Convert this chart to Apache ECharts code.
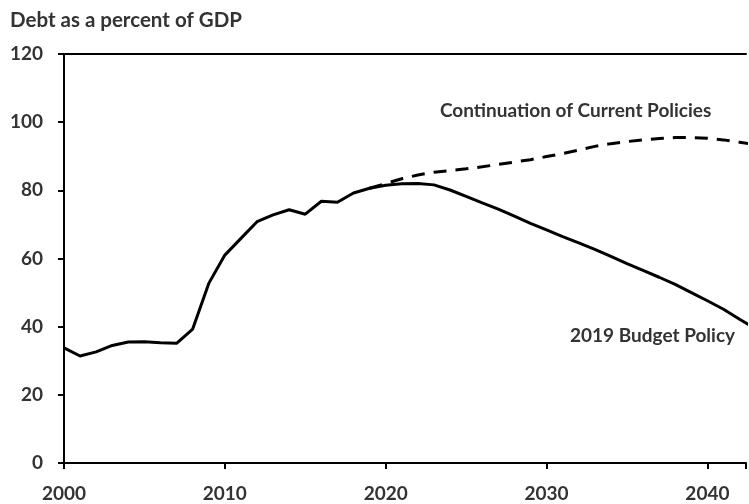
<!DOCTYPE html>
<html>
<head>
<meta charset="utf-8">
<script src="https://cdn.jsdelivr.net/npm/echarts@6/dist/echarts.min.js"></script>
<style>
html,body{margin:0;padding:0;background:#fff;}
#chart{width:749px;height:504px;}
</style>
</head>
<body>
<div id="chart"></div>
<script>
var titleText = 'Debt as a percent of GDP';
var labelCurrent = 'Continuation of Current Policies';
var labelBudget = '2019 Budget Policy';

var years = [2000,2001,2002,2003,2004,2005,2006,2007,2008,2009,2010,2011,2012,2013,2014,2015,2016,2017,2018,2019,2020,2021,2022,2023,2024,2025,2026,2027,2028,2029,2030,2031,2032,2033,2034,2035,2036,2037,2038,2039,2040,2041,2042,2043];
var budgetPolicy = [33.8,31.4,32.6,34.5,35.5,35.6,35.3,35.1,39.3,52.7,61.0,65.9,70.8,72.8,74.3,73.0,76.8,76.5,79.2,80.6,81.5,81.9,82.0,81.6,80.1,78.2,76.3,74.5,72.4,70.3,68.4,66.4,64.6,62.7,60.6,58.5,56.5,54.5,52.4,50.0,47.6,45.1,42.2,39.3];

var projYears = [2019,2020,2021,2022,2023,2024,2025,2026,2027,2028,2029,2030,2031,2032,2033,2034,2035,2036,2037,2038,2039,2040,2041,2042,2043];
var currentPolicies = [80.6,82.0,83.4,84.5,85.3,85.8,86.3,86.9,87.6,88.3,89.0,89.9,90.8,91.8,92.9,93.7,94.3,94.8,95.2,95.5,95.5,95.3,94.8,94.1,93.4];

var yTicks = {min:0, max:120, interval:20};
var xTicks = {min:2000, max:2042.4, interval:10};

function pairs(xs, ys){ return xs.map(function(x,i){ return [x, ys[i]]; }); }

var FONT = 'Lato';
var TXT = '#333333';

var chart = echarts.init(document.getElementById('chart'), null, {renderer:'canvas'});
chart.setOption({
  animation:false,
  backgroundColor:'#ffffff',
  title:{
    text:titleText, left:10, top:10, padding:0,
    textStyle:{fontFamily:FONT, fontWeight:'bold', fontSize:20.5, color:TXT}
  },
  grid:{left:64, right:0, top:54, bottom:41, containLabel:false},
  xAxis:[{
    type:'value', min:xTicks.min, max:xTicks.max, interval:xTicks.interval,
    axisLine:{show:true, lineStyle:{color:'#000', width:2}},
    axisTick:{show:true, length:6, lineStyle:{color:'#000', width:2}},
    axisLabel:{fontFamily:FONT, fontWeight:'bold', fontSize:19, color:TXT, margin:21,
      formatter:function(v){ return (v % 10 === 0) ? String(v) : ''; }},
    splitLine:{show:false}
  },{
    type:'value', position:'top', min:xTicks.min, max:xTicks.max,
    axisLine:{show:true, onZero:false, lineStyle:{color:'#000', width:2}},
    axisTick:{show:false}, axisLabel:{show:false}, splitLine:{show:false}
  }],
  yAxis:{
    type:'value', min:yTicks.min, max:yTicks.max, interval:yTicks.interval,
    axisLine:{show:true, lineStyle:{color:'#000', width:2}},
    axisTick:{show:true, length:6, lineStyle:{color:'#000', width:2}},
    axisLabel:{fontFamily:FONT, fontWeight:'bold', fontSize:19, color:TXT, margin:21},
    splitLine:{show:false}
  },
  series:[{
    name:labelCurrent, type:'line', xAxisIndex:0,
    data:pairs(projYears, currentPolicies),
    symbol:'none', clip:true,
    lineStyle:{color:'#000', width:3, type:[13,9], cap:'butt'}
  },{
    name:labelBudget, type:'line', xAxisIndex:0,
    data:pairs(years, budgetPolicy),
    symbol:'none', clip:true,
    lineStyle:{color:'#000', width:3}
  }],
  graphic:[{
    type:'text', left:440, top:101,
    style:{text:labelCurrent, fontFamily:FONT, fontWeight:'bold', fontSize:19, fill:TXT}
  },{
    type:'text', left:570, top:326,
    style:{text:labelBudget, fontFamily:FONT, fontWeight:'bold', fontSize:19, fill:TXT}
  }]
});
</script>
</body>
</html>
